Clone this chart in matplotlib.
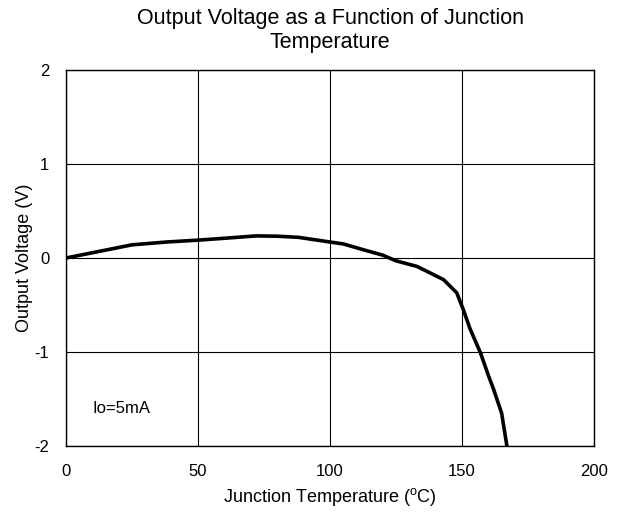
import matplotlib

matplotlib.use("Agg")
import matplotlib.pyplot as plt  # noqa: E402

plt.rcParams["font.family"] = ["Liberation Sans", "DejaVu Sans"]
plt.rcParams["mathtext.default"] = "regular"
plt.rcParams["axes.unicode_minus"] = False

# junction temperature (C) vs output voltage (V), Io = 5 mA
temp_c = [0, 25, 38, 50, 60, 72, 80, 88, 100, 105, 113, 120, 125, 133, 138,
          143, 148, 150.5, 153, 157, 160, 162, 165, 167]
vout = [0.0, 0.14, 0.17, 0.19, 0.21, 0.235, 0.232, 0.22, 0.17, 0.15, 0.085,
        0.03, -0.03, -0.09, -0.16, -0.23, -0.37, -0.55, -0.75, -1.01, -1.25,
        -1.40, -1.65, -2.0]

x_ticks = [0, 50, 100, 150, 200]
y_ticks = [-2, -1, 0, 1, 2]

fig = plt.figure(figsize=(6.18, 5.14), dpi=100)
ax = fig.add_axes([0.1068, 0.1323, 0.8544, 0.7315])
ax.plot(temp_c, vout, color="black", lw=2.6, solid_joinstyle="round")
ax.set_xlim(0, 200)
ax.set_ylim(-2, 2)
ax.set_xticks(x_ticks)
ax.set_yticks(y_ticks)
ax.tick_params(axis="x", length=0, labelsize=12, pad=13)
ax.tick_params(axis="y", length=0, labelsize=12, pad=12)
ax.grid(color="black", lw=0.8)
for s in ax.spines.values():
    s.set_linewidth(1.0)
ax.text(10, -1.6, "Io=5mA", fontsize=12, va="center")
ax.set_xlabel("Junction Temperature ($^{o}$C)", fontsize=13, labelpad=5)
ax.set_ylabel("Output Voltage (V)", fontsize=13, labelpad=1)
ax.set_title("Output Voltage as a Function of Junction\nTemperature",
             fontsize=15.5, pad=16, linespacing=1.15)
fig.savefig("out.png", dpi=100)
